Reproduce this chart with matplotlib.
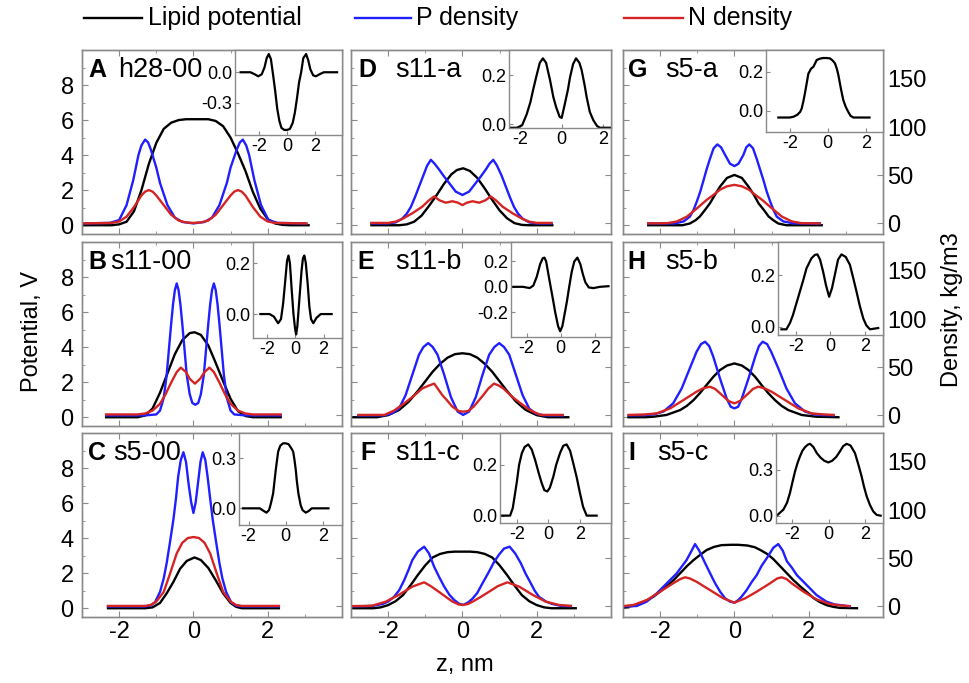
import matplotlib
matplotlib.use('Agg')
import matplotlib.pyplot as plt
from matplotlib.ticker import FormatStrFormatter

plt.rcParams['font.family'] = ['Liberation Sans', 'DejaVu Sans']
plt.rcParams['axes.unicode_minus'] = False

# ---------------- data ----------------
# Panel A : h28-00
A_zV = [-3.0, -2.2, -2.0, -1.8, -1.6, -1.4, -1.2, -1.0, -0.8, -0.6, -0.4, -0.2, 0.0, 0.2, 0.4, 0.6, 0.8, 1.0, 1.2, 1.4, 1.6, 1.8, 2.0, 2.2, 2.4, 2.6, 3.1]
A_V = [0.0, 0.0, 0.05, 0.2, 0.8, 2.0, 3.5, 4.7, 5.5, 5.85, 6.0, 6.05, 6.05, 6.05, 6.05, 5.95, 5.65, 5.0, 4.1, 3.1, 1.9, 0.95, 0.35, 0.1, 0.02, 0.0, 0.0]
A_zP = [-3.0, -2.25, -2.0, -1.8, -1.62, -1.48, -1.4, -1.3, -1.22, -1.15, -1.0, -0.9, -0.7, -0.5, -0.3, 0.0, 0.3, 0.5, 0.7, 0.9, 1.0, 1.17, 1.25, 1.33, 1.42, 1.5, 1.64, 1.82, 2.02, 2.27, 3.0]
A_P = [0, 0.5, 3.5, 19, 45, 71, 81, 87, 84, 77, 58, 42, 19, 6, 1.5, 0, 1.5, 6, 19, 42, 58, 77, 84, 87, 81, 71, 45, 19, 3.5, 0.5, 0]
A_zN = [-3.0, -2.2, -2.0, -1.8, -1.6, -1.4, -1.3, -1.2, -1.1, -1.0, -0.8, -0.6, -0.4, -0.2, 0.0, 0.2, 0.4, 0.6, 0.8, 1.0, 1.1, 1.2, 1.3, 1.4, 1.6, 1.8, 2.0, 2.2, 3.05]
A_N = [0, 0.5, 2, 7, 17, 29, 33, 34.6, 33, 29, 19, 9, 3, 1, 0.5, 1, 3, 9, 19, 29, 33, 34.6, 33, 29, 17, 7, 2, 0.5, 0]
A_zI = [-3.3, -2.6, -2.3, -2.05, -1.8, -1.6, -1.45, -1.3, -1.15, -1.0, -0.85, -0.7, -0.55, -0.4, -0.2, 0.0, 0.2, 0.4, 0.55, 0.7, 0.85, 1.0, 1.15, 1.35, 1.5, 1.65, 1.85, 2.05, 2.3, 2.6, 3.55]
A_I = [0.0, 0.0, -0.02, -0.04, -0.02, 0.05, 0.14, 0.18, 0.13, -0.02, -0.18, -0.36, -0.48, -0.55, -0.57, -0.57, -0.56, -0.5, -0.4, -0.26, -0.1, 0.0, 0.14, 0.18, 0.12, 0.03, -0.03, -0.04, -0.02, 0.0, 0.0]

# Panel B : s11-00
B_zV = [-2.35, -1.5, -1.3, -1.1, -0.9, -0.7, -0.5, -0.3, -0.1, 0.03, 0.2, 0.4, 0.6, 0.8, 1.0, 1.2, 1.4, 1.6, 2.35]
B_V = [0, 0, 0.1, 0.5, 1.4, 2.5, 3.6, 4.4, 4.8, 4.85, 4.7, 4.1, 3.1, 2.05, 1.05, 0.35, 0.07, 0, 0]
B_zP = [-2.35, -1.3, -1.0, -0.9, -0.8, -0.72, -0.65, -0.6, -0.55, -0.5, -0.45, -0.4, -0.35, -0.3, -0.25, -0.18, -0.1, -0.03, 0.05, 0.13, 0.2, 0.28, 0.35, 0.4, 0.45, 0.5, 0.55, 0.6, 0.65, 0.7, 0.75, 0.82, 0.9, 1.0, 1.1, 1.4, 2.35]
B_P = [0, 0, 1, 5, 18, 42, 73, 95, 115, 130, 137, 130, 115, 95, 73, 42, 22, 13, 11, 13, 22, 42, 73, 95, 115, 130, 137, 130, 115, 95, 73, 42, 18, 5, 1, 0, 0]
B_zN = [-2.35, -1.5, -1.3, -1.1, -0.9, -0.75, -0.6, -0.45, -0.34, -0.2, -0.1, 0.04, 0.18, 0.3, 0.43, 0.55, 0.7, 0.85, 1.0, 1.2, 1.4, 1.6, 2.35]
B_N = [1, 1, 2, 5, 12, 22, 34, 45, 49.6, 45, 38, 33, 38, 45, 49.6, 45, 34, 22, 12, 5, 2, 1, 1]
B_zI = [-2.45, -1.8, -1.5, -1.2, -1.0, -0.85, -0.7, -0.57, -0.47, -0.37, -0.25, -0.12, 0.0, 0.07, 0.15, 0.3, 0.45, 0.55, 0.65, 0.75, 0.88, 1.0, 1.12, 1.28, 1.5, 1.8, 2.57]
B_I = [0, 0, -0.01, -0.036, -0.02, 0.04, 0.13, 0.21, 0.23, 0.2, 0.1, 0.0, -0.06, -0.08, -0.05, 0.06, 0.17, 0.22, 0.23, 0.2, 0.12, 0.03, -0.02, -0.036, -0.015, 0, 0]

# Panel C : s5-00
C_zV = [-2.3, -1.3, -1.1, -0.9, -0.72, -0.54, -0.36, -0.18, 0.03, 0.2, 0.4, 0.6, 0.8, 1.0, 1.15, 1.3, 2.3]
C_V = [0, 0, 0.05, 0.3, 0.85, 1.5, 2.25, 2.7, 2.9, 2.75, 2.3, 1.6, 0.85, 0.3, 0.08, 0, 0]
C_zP = [-2.3, -1.3, -1.15, -1.04, -0.9, -0.8, -0.72, -0.63, -0.54, -0.47, -0.41, -0.34, -0.27, -0.2, -0.13, -0.06, 0.0, 0.06, 0.12, 0.19, 0.25, 0.32, 0.38, 0.45, 0.52, 0.61, 0.7, 0.78, 0.88, 1.02, 1.13, 1.3, 2.3]
C_P = [0, 0, 1, 4, 15, 29, 45, 67, 90, 112, 135, 152, 160, 150, 127, 108, 97, 108, 127, 150, 160, 152, 135, 112, 90, 67, 45, 29, 15, 4, 1, 0, 0]
C_zN = [-2.3, -1.3, -1.15, -1.0, -0.8, -0.63, -0.45, -0.3, -0.15, 0.0, 0.15, 0.3, 0.45, 0.63, 0.8, 1.0, 1.15, 1.3, 2.3]
C_N = [0.5, 0.5, 1.5, 5, 15, 34, 55, 66, 71, 72, 71, 66, 55, 34, 15, 5, 1.5, 0.5, 0.5]
C_zI = [-2.3, -1.4, -1.2, -1.04, -0.9, -0.8, -0.68, -0.6, -0.54, -0.47, -0.41, -0.3, -0.15, 0.0, 0.15, 0.3, 0.4, 0.47, 0.54, 0.6, 0.68, 0.8, 0.9, 1.08, 1.25, 1.4, 2.3]
C_I = [0, 0, -0.015, -0.026, -0.01, 0.03, 0.09, 0.17, 0.23, 0.29, 0.34, 0.375, 0.39, 0.39, 0.385, 0.36, 0.34, 0.29, 0.23, 0.16, 0.09, 0.02, -0.01, -0.026, -0.015, 0, 0]

# Panel D : s11-a
D_zV = [-2.45, -1.7, -1.5, -1.3, -1.1, -0.9, -0.7, -0.5, -0.3, -0.15, 0.02, 0.2, 0.4, 0.6, 0.8, 1.0, 1.2, 1.4, 1.6, 1.8, 2.42]
D_V = [0, 0, 0.05, 0.2, 0.55, 1.1, 1.7, 2.35, 2.9, 3.15, 3.25, 3.1, 2.7, 2.1, 1.45, 0.85, 0.4, 0.12, 0.02, 0, 0]
D_zP = [-2.45, -2.0, -1.8, -1.62, -1.5, -1.39, -1.28, -1.17, -1.05, -0.95, -0.85, -0.75, -0.63, -0.5, -0.36, -0.18, 0.0, 0.18, 0.36, 0.5, 0.63, 0.73, 0.83, 0.93, 1.05, 1.17, 1.28, 1.39, 1.5, 1.62, 1.8, 2.0, 2.4]
D_P = [0, 0, 1, 5, 10, 17, 27, 38, 50, 60, 66, 62, 56, 49, 42, 33, 29.5, 33, 42, 49, 56, 62, 66, 60, 50, 38, 27, 17, 10, 5, 1, 0, 0]
D_zN = [-2.45, -2.0, -1.8, -1.62, -1.35, -1.08, -0.9, -0.76, -0.62, -0.45, -0.27, -0.12, 0.0, 0.12, 0.27, 0.45, 0.62, 0.76, 0.9, 1.08, 1.35, 1.62, 1.8, 2.0, 2.4]
D_N = [0.5, 0.5, 1.8, 4.6, 10.5, 17.4, 24, 28, 24, 21.5, 23, 21.5, 19, 21.5, 23, 21.5, 24, 28, 24, 17.4, 10.5, 4.6, 1.8, 0.5, 0.5]
D_zI = [-2.5, -2.15, -1.9, -1.68, -1.5, -1.37, -1.2, -1.05, -0.9, -0.75, -0.56, -0.4, -0.27, -0.1, 0.0, 0.16, 0.3, 0.4, 0.55, 0.69, 0.85, 0.96, 1.1, 1.2, 1.35, 1.52, 1.7, 1.84, 2.35]
D_I = [-0.015, -0.015, -0.005, 0.04, 0.09, 0.14, 0.2, 0.25, 0.268, 0.25, 0.18, 0.11, 0.07, 0.03, 0.025, 0.085, 0.14, 0.19, 0.245, 0.268, 0.25, 0.22, 0.16, 0.11, 0.05, 0.016, -0.008, -0.015, -0.015]

# Panel E : s11-b
E_zV = [-2.95, -2.3, -2.0, -1.7, -1.44, -1.2, -1.0, -0.8, -0.6, -0.4, -0.2, 0.0, 0.2, 0.4, 0.6, 0.8, 1.0, 1.2, 1.44, 1.7, 2.0, 2.3, 2.85]
E_V = [0, 0, 0.12, 0.42, 0.9, 1.5, 2.05, 2.6, 3.05, 3.4, 3.6, 3.65, 3.6, 3.4, 3.05, 2.6, 2.05, 1.5, 0.9, 0.42, 0.12, 0, 0]
E_zP = [-2.8, -2.1, -1.9, -1.71, -1.53, -1.35, -1.17, -1.05, -0.92, -0.8, -0.67, -0.49, -0.31, -0.13, 0.02, 0.18, 0.36, 0.54, 0.72, 0.86, 0.99, 1.12, 1.26, 1.44, 1.62, 1.8, 1.97, 2.2, 2.7]
E_P = [0, 0, 2, 7, 21, 42, 63, 71, 75, 71, 63, 42, 19, 4, 0.5, 4, 19, 42, 63, 71, 75, 71, 63, 42, 21, 7, 2, 0, 0]
E_zN = [-2.8, -2.1, -1.84, -1.62, -1.35, -1.08, -0.9, -0.76, -0.65, -0.54, -0.4, -0.27, -0.1, 0.02, 0.15, 0.3, 0.43, 0.56, 0.7, 0.85, 0.98, 1.1, 1.35, 1.62, 1.84, 2.1, 2.7]
E_N = [0.5, 0.5, 5, 11, 19, 28, 31, 33, 27, 21, 15, 9, 4.5, 3.9, 4.5, 9, 15, 21, 28, 33, 31, 28, 19, 11, 5, 0.5, 0.5]
E_zI = [-2.78, -2.2, -1.82, -1.6, -1.4, -1.2, -1.05, -0.95, -0.85, -0.72, -0.6, -0.45, -0.32, -0.15, -0.03, 0.1, 0.25, 0.36, 0.5, 0.65, 0.8, 0.98, 1.15, 1.3, 1.45, 1.65, 1.92, 2.3, 2.8]
E_I = [0, 0, -0.01, 0.01, 0.08, 0.18, 0.225, 0.23, 0.2, 0.1, 0.01, -0.1, -0.2, -0.31, -0.35, -0.31, -0.2, -0.12, 0.0, 0.12, 0.2, 0.23, 0.18, 0.1, 0.035, -0.005, -0.01, 0.0, 0.005]

# Panel F : s11-c
F_zV = [-3.0, -2.4, -2.2, -2.0, -1.8, -1.6, -1.4, -1.2, -1.0, -0.8, -0.6, -0.4, -0.2, 0.0, 0.2, 0.4, 0.6, 0.8, 1.0, 1.2, 1.4, 1.6, 1.8, 2.0, 2.2, 2.4, 3.05]
F_V = [0, 0, 0.05, 0.18, 0.4, 0.75, 1.3, 1.9, 2.45, 2.9, 3.1, 3.2, 3.23, 3.23, 3.23, 3.2, 3.1, 2.9, 2.45, 1.9, 1.3, 0.75, 0.4, 0.18, 0.05, 0, 0]
F_zP = [-3.0, -2.6, -2.42, -2.15, -2.0, -1.84, -1.7, -1.57, -1.45, -1.35, -1.2, -1.03, -0.9, -0.76, -0.62, -0.49, -0.35, -0.22, -0.1, 0.02, 0.15, 0.27, 0.4, 0.54, 0.7, 0.85, 0.99, 1.12, 1.27, 1.42, 1.57, 1.7, 1.8, 1.95, 2.06, 2.25, 2.42, 2.65, 2.92]
F_P = [0, 0.3, 0.5, 2.5, 5, 10, 17, 27, 38, 48, 57, 62, 55, 41, 30, 20.5, 12, 6.6, 3, 1.5, 4, 8, 14, 24, 35, 46, 54, 60, 62, 55, 45, 34, 27, 16, 10, 5, 2.5, 0.5, 0.3]
F_zN = [-3.0, -2.6, -2.42, -2.06, -1.71, -1.35, -1.03, -0.85, -0.63, -0.45, -0.27, -0.1, 0.02, 0.15, 0.3, 0.5, 0.72, 0.95, 1.21, 1.53, 1.89, 2.24, 2.6, 2.92]
F_N = [0.3, 0.5, 0.8, 5, 12, 20.5, 25, 21, 15, 10, 5, 2, 1.5, 2.5, 5.5, 10, 15.3, 21, 25, 20.5, 12, 5, 1.5, 0.5]
F_zI = [-2.95, -2.42, -2.25, -2.0, -1.85, -1.68, -1.5, -1.27, -1.05, -0.84, -0.62, -0.42, -0.25, -0.06, 0.1, 0.32, 0.5, 0.74, 0.95, 1.16, 1.38, 1.58, 1.8, 2.0, 2.2, 2.43, 3.06]
F_I = [0, 0, 0.03, 0.13, 0.2, 0.245, 0.27, 0.28, 0.26, 0.22, 0.17, 0.128, 0.1, 0.095, 0.11, 0.154, 0.2, 0.246, 0.275, 0.28, 0.255, 0.206, 0.15, 0.09, 0.035, 0.0, 0.0]

# Panel G : s5-a
G_zV = [-2.32, -1.4, -1.2, -1.05, -0.93, -0.8, -0.66, -0.52, -0.39, -0.2, 0.0, 0.2, 0.38, 0.52, 0.65, 0.8, 0.92, 1.05, 1.18, 1.4, 2.35]
G_V = [0, 0, 0.1, 0.28, 0.5, 0.85, 1.25, 1.75, 2.2, 2.7, 2.87, 2.7, 2.2, 1.75, 1.25, 0.85, 0.5, 0.28, 0.1, 0, 0]
G_zP = [-2.32, -1.6, -1.37, -1.2, -1.1, -1.01, -0.92, -0.83, -0.75, -0.66, -0.56, -0.46, -0.36, -0.25, -0.12, 0.0, 0.11, 0.24, 0.32, 0.4, 0.5, 0.6, 0.69, 0.78, 0.87, 0.96, 1.05, 1.14, 1.32, 1.6, 2.3]
G_P = [0, 0, 2, 7, 14, 23, 33, 45, 56, 67, 78, 82, 79, 71, 62, 59.5, 62, 71, 79, 82, 78, 67, 56, 45, 33, 23, 14, 7, 2, 0, 0]
G_zN = [-2.32, -1.8, -1.55, -1.28, -1.01, -0.75, -0.55, -0.39, -0.2, 0.0, 0.2, 0.39, 0.55, 0.75, 1.01, 1.28, 1.55, 1.8, 2.3]
G_N = [0, 0.3, 2, 7, 15.6, 24.3, 30, 35, 38.5, 40, 38.5, 35, 30, 24.3, 15.6, 7, 2, 0.3, 0]
G_zI = [-2.6, -2.0, -1.8, -1.6, -1.45, -1.37, -1.28, -1.2, -1.1, -1.02, -0.88, -0.75, -0.58, -0.4, -0.25, -0.05, 0.12, 0.25, 0.38, 0.48, 0.56, 0.7, 0.82, 0.95, 1.08, 1.2, 1.35, 2.2]
G_I = [-0.034, -0.034, -0.03, -0.02, -0.005, 0.012, 0.05, 0.09, 0.145, 0.19, 0.215, 0.226, 0.26, 0.267, 0.27, 0.27, 0.268, 0.258, 0.243, 0.215, 0.183, 0.11, 0.055, 0.02, -0.005, -0.025, -0.034, -0.034]

# Panel H : s5-b
H_zV = [-2.85, -2.4, -2.18, -1.83, -1.46, -1.28, -1.1, -0.92, -0.75, -0.57, -0.39, -0.2, 0.0, 0.2, 0.38, 0.56, 0.73, 0.9, 1.09, 1.27, 1.45, 1.81, 2.2, 2.8]
H_V = [0, 0, 0.03, 0.13, 0.41, 0.65, 0.98, 1.4, 1.84, 2.3, 2.69, 2.95, 3.07, 2.95, 2.69, 2.3, 1.84, 1.4, 0.98, 0.65, 0.41, 0.13, 0.03, 0]
H_zP = [-2.85, -2.4, -2.18, -1.91, -1.65, -1.42, -1.2, -1.02, -0.9, -0.79, -0.68, -0.57, -0.39, -0.21, -0.1, 0.0, 0.1, 0.2, 0.38, 0.56, 0.66, 0.76, 0.88, 0.99, 1.18, 1.4, 1.63, 1.9, 2.15, 2.4, 2.67]
H_P = [0, 0.3, 1, 4, 12.5, 28, 49, 66, 74, 76.5, 72, 61, 38.5, 17.7, 9, 7.3, 9, 17.7, 38.5, 61, 72, 76.5, 74, 66, 49, 28, 12.5, 4, 1, 0.3, 0]
H_zN = [-2.85, -2.4, -2.09, -1.73, -1.37, -1.02, -0.85, -0.66, -0.52, -0.39, -0.16, 0.0, 0.15, 0.38, 0.5, 0.64, 0.82, 1.0, 1.36, 1.72, 2.08, 2.4, 2.67]
H_N = [0.5, 1, 2.1, 7.3, 16, 24.6, 28, 29.8, 27.5, 23, 15, 12.5, 15, 23, 27.5, 29.8, 28, 24.6, 16, 7.3, 2.1, 1, 0.5]
H_zI = [-2.85, -2.56, -2.35, -2.18, -1.98, -1.78, -1.58, -1.39, -1.1, -0.9, -0.75, -0.6, -0.42, -0.25, -0.07, 0.1, 0.26, 0.45, 0.65, 0.9, 1.14, 1.33, 1.53, 1.72, 1.92, 2.1, 2.31, 2.79]
H_I = [-0.01, -0.01, 0.015, 0.045, 0.09, 0.135, 0.18, 0.226, 0.265, 0.278, 0.28, 0.26, 0.213, 0.16, 0.116, 0.15, 0.2, 0.26, 0.28, 0.27, 0.24, 0.19, 0.135, 0.08, 0.032, 0.005, -0.01, -0.005]

# Panel I : s5-c
I_zV = [-3.0, -2.7, -2.54, -2.36, -2.18, -2.0, -1.82, -1.64, -1.46, -1.28, -1.1, -0.92, -0.75, -0.55, -0.35, -0.1, 0.1, 0.35, 0.55, 0.7, 0.88, 1.05, 1.23, 1.41, 1.59, 1.77, 1.95, 2.13, 2.3, 2.48, 2.66, 2.84, 3.3]
I_V = [0.03, 0.15, 0.28, 0.45, 0.66, 0.95, 1.25, 1.6, 2.0, 2.4, 2.75, 3.05, 3.32, 3.5, 3.6, 3.62, 3.62, 3.58, 3.48, 3.32, 3.1, 2.8, 2.4, 2.0, 1.6, 1.25, 0.92, 0.58, 0.35, 0.18, 0.08, 0.02, 0]
I_zP = [-3.0, -2.63, -2.36, -2.09, -1.82, -1.56, -1.29, -1.15, -1.06, -0.95, -0.79, -0.65, -0.52, -0.38, -0.25, -0.12, 0.0, 0.1, 0.2, 0.33, 0.46, 0.6, 0.73, 0.87, 1.05, 1.18, 1.3, 1.41, 1.55, 1.68, 1.95, 2.21, 2.48, 2.7, 2.84, 3.1]
I_P = [0, 0.4, 5, 13.6, 24, 34, 48, 58, 64.7, 58, 45, 34, 24, 15, 8.4, 5, 3.9, 6.5, 10.5, 17, 25, 32.5, 42, 50, 61, 64.7, 58, 47, 40, 32.5, 22, 11.8, 4.9, 2, 1.4, 0]
I_zN = [-3.0, -2.72, -2.36, -2.0, -1.65, -1.45, -1.33, -1.2, -1.02, -0.66, -0.3, 0.0, 0.29, 0.6, 0.96, 1.15, 1.27, 1.4, 1.54, 1.86, 2.21, 2.57, 2.85, 3.1]
I_N = [0.3, 1.5, 6.6, 15.3, 24, 28.5, 30.2, 29, 25.6, 17, 8.4, 3.9, 8.4, 15.3, 24, 29, 30.2, 28.5, 24, 15.3, 7.3, 2.4, 1, 0.3]
I_zI = [-2.87, -2.5, -2.3, -2.14, -2.0, -1.86, -1.72, -1.59, -1.45, -1.31, -1.15, -1.03, -0.85, -0.66, -0.45, -0.25, -0.02, 0.2, 0.42, 0.62, 0.8, 0.99, 1.2, 1.45, 1.65, 1.82, 1.95, 2.1, 2.28, 2.46, 2.65, 2.87]
I_I = [0, 0.04, 0.085, 0.148, 0.22, 0.289, 0.345, 0.387, 0.425, 0.448, 0.465, 0.47, 0.45, 0.41, 0.38, 0.36, 0.348, 0.36, 0.385, 0.42, 0.455, 0.47, 0.46, 0.41, 0.33, 0.256, 0.19, 0.126, 0.07, 0.028, 0.005, 0]

letters = ['A', 'B', 'C', 'D', 'E', 'F', 'G', 'H', 'I']
names = ['h28-00', 's11-00', 's5-00', 's11-a', 's11-b', 's11-c', 's5-a', 's5-b', 's5-c']
inset_yticks = [[-0.3, 0.0], [0.0, 0.2], [0.0, 0.3], [0.0, 0.2], [-0.2, 0.0, 0.2],
                [0.0, 0.2], [0.0, 0.2], [0.0, 0.2], [0.0, 0.3]]
legend_labels = ['Lipid potential', 'P density', 'N density']

series = [
    (A_zV, A_V, A_zP, A_P, A_zN, A_N, A_zI, A_I),
    (B_zV, B_V, B_zP, B_P, B_zN, B_N, B_zI, B_I),
    (C_zV, C_V, C_zP, C_P, C_zN, C_N, C_zI, C_I),
    (D_zV, D_V, D_zP, D_P, D_zN, D_N, D_zI, D_I),
    (E_zV, E_V, E_zP, E_P, E_zN, E_N, E_zI, E_I),
    (F_zV, F_V, F_zP, F_P, F_zN, F_N, F_zI, F_I),
    (G_zV, G_V, G_zP, G_P, G_zN, G_N, G_zI, G_I),
    (H_zV, H_V, H_zP, H_P, H_zN, H_N, H_zI, H_I),
    (I_zV, I_V, I_zP, I_P, I_zN, I_N, I_zI, I_I),
]

# ---------------- layout (pixels) ----------------
W, H = 969, 683
fig = plt.figure(figsize=(W / 100, H / 100), dpi=100)


def fbox(l, t, r, b):
    return [l / W, 1 - b / H, (r - l) / W, (b - t) / H]


COLS = [82, 351, 623]
ROWS = [50, 242, 433]
PW, PH = 260, 184
# inset boxes (left, top, right, bottom) in pixels, and axis limits
inset_box = [(235, 50, 342, 135), (253, 242, 342, 338), (239, 433, 342, 525),
             (509, 50, 611, 128), (511, 242, 611, 337), (500, 433, 611, 523),
             (766, 50, 883, 132), (778, 242, 883, 335), (776, 433, 883, 523)]
inset_xlim = [(-3.7, 3.9), (-2.97, 3.3), (-2.52, 3.03), (-2.53, 2.37), (-2.91, 2.95),
              (-3.06, 3.97), (-3.25, 2.91), (-3.05, 3.07), (-2.91, 3.0)]
inset_ylim = [(-0.62, 0.22), (-0.094, 0.283), (-0.1, 0.452), (-0.016, 0.302), (-0.395, 0.353),
              (-0.029, 0.325), (-0.108, 0.311), (-0.032, 0.328), (-0.048, 0.541)]
letter_x = [88, 88, 88, 358, 357, 360, 628, 627, 628]
name_x = [118, 110, 113, 395, 395, 395, 665, 665, 657]

BLUE = '#1f1fff'
RED = '#d42424'
FRAME = '#8a8a8a'
LW = 1.7

handles = None
for i in range(9):
    col, row = i // 3, i % 3
    l, t = COLS[col], ROWS[row]
    zV, V, zP, P, zN, N, zI, I = series[i]
    ax = fig.add_axes(fbox(l, t, l + PW, t + PH))
    ax.set_xlim(-3, 4)
    ax.set_ylim(-0.5, 10)
    ax2 = ax.twinx()
    ax2.set_ylim(-11, 180)
    h1, = ax.plot(zV, V, color='black', lw=LW, solid_joinstyle='round')
    h2, = ax2.plot(zP, P, color=BLUE, lw=LW, solid_joinstyle='round')
    h3, = ax2.plot(zN, N, color=RED, lw=LW, solid_joinstyle='round')
    handles = (h1, h2, h3)

    ax.set_xticks([-2, 0, 2])
    ax.set_xticks([-3, -1, 1, 3], minor=True)
    ax.set_yticks([0, 2, 4, 6, 8])
    ax.set_yticks([1, 3, 5, 7, 9], minor=True)
    ax2.set_yticks([0, 50, 100, 150])
    for a in (ax, ax2):
        for s in a.spines.values():
            s.set_color(FRAME)
            s.set_linewidth(1.0)
    ax.tick_params(which='both', direction='in', top=True, color=FRAME, labelsize=17, pad=3)
    ax.tick_params(axis='y', pad=6)
    ax.tick_params(which='major', length=4)
    ax.tick_params(which='minor', length=2.5)
    ax2.tick_params(which='both', direction='in', color=FRAME, labelsize=17, length=4, pad=3)
    if col != 0:
        ax.tick_params(labelleft=False)
    if row != 2:
        ax.tick_params(labelbottom=False)
    if col != 2:
        ax2.tick_params(labelright=False)

    # panel label
    yc = 1 - 20 / PH
    ax.text((letter_x[i] - l) / PW, yc, letters[i], transform=ax.transAxes,
            fontsize=18, fontweight='bold', va='center', ha='left', zorder=5)
    ax.text((name_x[i] - l) / PW, yc, names[i], transform=ax.transAxes,
            fontsize=19.5, va='center', ha='left', zorder=5)

    # inset
    ia = fig.add_axes(fbox(*inset_box[i]))
    ia.plot(zI, I, color='black', lw=1.6, solid_joinstyle='round')
    ia.set_xlim(*inset_xlim[i])
    ia.set_ylim(*inset_ylim[i])
    ia.set_xticks([-2, 0, 2])
    ia.set_yticks(inset_yticks[i])
    ia.yaxis.set_major_formatter(FormatStrFormatter('%.1f'))
    for s in ia.spines.values():
        s.set_color(FRAME)
        s.set_linewidth(1.0)
    ia.tick_params(direction='in', length=3, color=FRAME, labelsize=13, pad=2)

# legend along the top
lg = fig.add_axes([0, 1 - 40 / H, 1, 40 / H])
lg.set_xlim(0, W)
lg.set_ylim(40, 0)
lg.axis('off')
leg_line_x = [(84, 142), (355, 411), (624, 683)]
leg_text_x = [148, 416, 688]
for (x0, x1), tx, hdl, lab in zip(leg_line_x, leg_text_x, handles, legend_labels):
    lg.plot([x0, x1], [18, 18], color=hdl.get_color(), lw=LW)
    lg.text(tx, 18, lab, fontsize=18, va='center', ha='left')

fig.text(32 / W, 1 - 331 / H, 'Potential, V', rotation=90, fontsize=17,
         ha='center', va='center')
fig.text(952 / W, 1 - 310 / H, 'Density, kg/m3', rotation=90, fontsize=17,
         ha='center', va='center')
fig.text(465 / W, 1 - 665 / H, 'z, nm', fontsize=17, ha='center', va='center')

fig.savefig('out.png', dpi=100)
